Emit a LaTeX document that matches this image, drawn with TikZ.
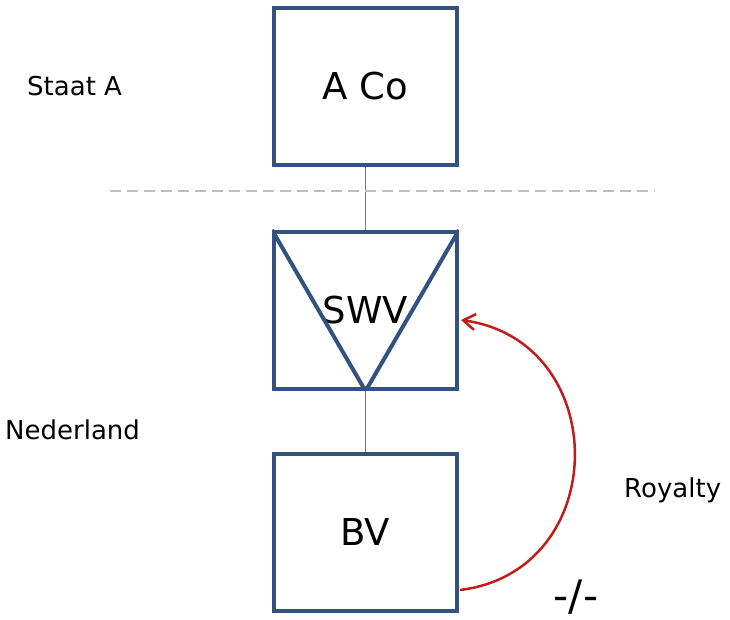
\documentclass[tikz,border=0pt]{standalone}
\usepackage{fontspec}
\setmainfont{DejaVu Sans}
\usetikzlibrary{arrows.meta}
\definecolor{boxblue}{RGB}{52,82,128}
\definecolor{linkblue}{RGB}{79,129,189}
\definecolor{dashgray}{RGB}{191,191,191}
\definecolor{royred}{RGB}{192,28,28}
\begin{document}
\begin{tikzpicture}[x=1pt,y=1pt,
  entity/.style={draw=boxblue,line width=4pt,minimum width=183pt,minimum height=157pt,inner sep=0pt,font=\fontsize{37}{40}\selectfont,line join=miter},
  link/.style={draw=linkblue,line width=1.2pt},
  lbl/.style={font=\fontsize{26}{29}\selectfont,inner sep=0pt,anchor=base west}]
\useasboundingbox (0,0) rectangle (730,620);
\coordinate (c1) at (365.5,533.5);
\coordinate (c2) at (365.5,309.5);
\coordinate (c3) at (365.5,87.5);
\node[entity] (aco) at (c1) {A Co};
\node[entity] (swv) at (c2) {SWV};
\node[entity] (bv) at (c3) {\raisebox{-2pt}{BV}};
\draw[link] (aco.south) -- (swv.north);
\draw[link] (swv.south) -- (bv.north);
\begin{scope}
\clip (swv.north west) rectangle (swv.south east);
\draw[boxblue,line width=4pt,line join=miter] (swv.north west) -- (swv.south) -- (swv.north east);
\end{scope}
\coordinate (dl) at (110,429);
\coordinate (dr) at (655,429);
\draw[dashgray,line width=2pt,dash pattern=on 11pt off 6pt] (dl) -- (dr);
% labels
\node[lbl] (staat) at (27,524) {Staat A};
\node[lbl] (ned) at (5,180) {Nederland};
\node[lbl] (roy) at (624,122) {Royalty};
\node[font=\fontsize{42}{46}\selectfont,inner sep=0pt,text height=31pt,text depth=4pt,anchor=base] (nil) at (576,9) {-/-};
% royalty arc
\coordinate (rs) at ([yshift=-57.5pt,xshift=1pt]bv.east);
\coordinate (re) at ([yshift=-9.5pt,xshift=2pt]swv.east);
\draw[royred,line width=2.5pt,-{Straight Barb[length=12pt,width=16pt,line width=2.5pt]}]
  (rs) to[out=7,in=-8,looseness=1.45] (re);
\end{tikzpicture}
\end{document}
